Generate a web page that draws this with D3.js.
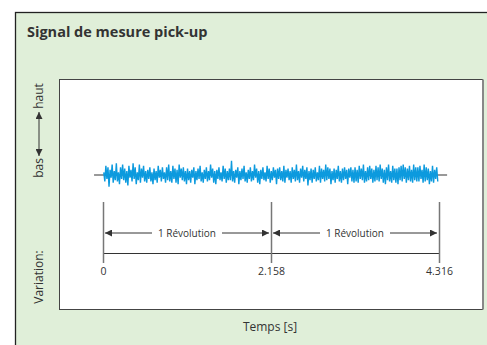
<!DOCTYPE html>
<html>
<head>
<meta charset="utf-8">
<script src="https://cdn.jsdelivr.net/npm/d3@7"></script>
<style>
  body { margin: 0; background: #fff; }
  text { font-family: "Open Sans", "Noto Sans", sans-serif; fill: #333; }
</style>
</head>
<body>
<div id="chart"></div>
<script>
// chart data
const title = 'Signal de mesure pick-up';
const xTicks = [0, 2.158, 4.316];
const xTickLabels = ['0', '2.158', '4.316'];
const revolutions = [[0, 2.158], [2.158, 4.316]];
const revLabel = '1 Révolution';
const xLabel = 'Temps [s]';
const yLabel = 'Variation:';
const baselineExtent = [-0.115, 4.42];
const signalStart = 0.01;
const signalEnd = 4.30;
// pick-up amplitude
const signal = [
  2,-5,7,-3,6,-9,4,-2,8,-6,3,-4,9,-5,2,-7,6,-3,8,-4,
  5,-6,3,-8,7,-2,4,-5,9,-3,6,-7,2,-4,8,-6,5,-2,7,-5,
  3,-6,4,-3,6,-5,2,-7,5,-4,3,-6,7,-2,4,-5,6,-3,2,-6,
  6,-4,8,-5,3,-6,7,-3,5,-6,4,-7,8,-2,5,-4,6,-5,3,-7,
  5,-4,3,-6,4,-2,6,-7,3,-4,5,-3,7,-5,2,-6,4,-3,6,-5,
  3,-4,8,-2,5,-6,3,-7,4,-3,6,-4,2,-5,7,-3,5,-6,3,-4,
  5,-4,11,-5,3,-6,4,-2,6,-7,3,-4,5,-3,7,-5,2,-6,4,-3,
  6,-5,3,-4,8,-2,5,-6,3,-7,4,-3,6,-4,2,-5,7,-3,5,-6,
  3,-4,6,-2,4,-7,5,-3,6,-4,3,-5,7,-6,4,-2,5,-4,3,-6,
  6,-3,4,-5,8,-4,3,-6,5,-2,7,-5,4,-3,6,-8,3,-4,5,-6,
  4,-3,6,-5,2,-4,7,-6,5,-3,4,-5,8,-4,6,-3,5,-7,3,-4,
  5,-6,4,-3,7,-5,3,-6,5,-4,6,-3,4,-7,5,-2,6,-5,4,-6,
  6,-5,4,-6,7,-3,5,-4,8,-6,3,-5,6,-4,7,-3,5,-6,4,-5,
  7,-4,6,-5,8,-3,5,-6,4,-7,6,-4,8,-5,3,-6,7,-4,5,-6,
  5,-7,6,-4,7,-5,8,-3,6,-6,5,-4,7,-5,4,-6,8,-4,6,-5,
  6,-5,7,-3,4,-6,8,-5,6,-4,5,-7,3,-5,7,-6,4,-3,6,-5
];

const width = 487, height = 345;
const svg = d3.select('#chart').append('svg')
  .attr('width', width).attr('height', height);

// arrow heads
const defs = svg.append('defs');
defs.append('marker')
  .attr('id', 'arr')
  .attr('viewBox', '0 0 10 10')
  .attr('refX', 10).attr('refY', 5)
  .attr('markerWidth', 10).attr('markerHeight', 7)
  .attr('markerUnits', 'userSpaceOnUse')
  .attr('orient', 'auto-start-reverse')
  .append('path').attr('d', 'M0,0L10,5L0,10Z').attr('fill', '#333');

// outer panel
svg.append('rect')
  .attr('x', 15.5).attr('y', 12.5)
  .attr('width', 480).attr('height', 340)
  .attr('fill', '#e0efd9').attr('stroke', '#222').attr('stroke-width', 1.3);

svg.append('text')
  .attr('x', 27).attr('y', 37)
  .attr('font-size', '14.5px').attr('font-weight', 'bold')
  .text(title);

// plot box
const box = { left: 59.5, top: 79.5, right: 482.5, bottom: 309.5 };
svg.append('rect')
  .attr('x', box.left).attr('y', box.top)
  .attr('width', box.right - box.left).attr('height', box.bottom - box.top)
  .attr('fill', '#fff').attr('stroke', '#444').attr('stroke-width', 1);
svg.append('line')
  .attr('x1', box.right + 0.5).attr('x2', box.right + 0.5)
  .attr('y1', box.top).attr('y2', box.bottom)
  .attr('stroke', '#888').attr('stroke-width', 2);

// scales
const x = d3.scaleLinear().domain([0, 4.316]).range([103, 439]);
const y = d3.scaleLinear().domain([-10, 10]).range([188, 162]);

// baseline
svg.append('line')
  .attr('x1', x(baselineExtent[0])).attr('x2', x(baselineExtent[1]))
  .attr('y1', y(0)).attr('y2', y(0))
  .attr('stroke', '#777').attr('stroke-width', 1.5);

// signal trace
const step = (signalEnd - signalStart) / (signal.length - 1);
const line = d3.line()
  .x((d, i) => x(signalStart + i * step))
  .y(d => y(d));
svg.append('path')
  .datum(signal)
  .attr('d', line)
  .attr('fill', 'none')
  .attr('stroke', '#0c9ade')
  .attr('stroke-width', 1.4);

// time axis
const axisY = 253;
const axis = svg.append('g')
  .attr('transform', `translate(0,${axisY})`)
  .call(d3.axisBottom(x).tickValues(xTicks)
    .tickFormat((d, i) => xTickLabels[i])
    .tickSize(10).tickPadding(5).tickSizeOuter(0));
axis.select('.domain').attr('stroke', '#333').attr('stroke-width', 1);
axis.selectAll('.tick line').attr('stroke', '#777').attr('stroke-width', 1.5)
  .attr('y1', 202 - axisY);
axis.selectAll('.tick text')
  .attr('font-family', '"Open Sans", sans-serif')
  .attr('font-size', '10.5px').attr('fill', '#333');

// revolution arrows
const arrowY = 233;
revolutions.forEach(r => {
  const mid = (x(r[0]) + x(r[1])) / 2;
  const gap = 35;
  svg.append('line')
    .attr('x1', mid - gap).attr('x2', x(r[0]) + 2)
    .attr('y1', arrowY).attr('y2', arrowY)
    .attr('stroke', '#333').attr('stroke-width', 1)
    .attr('marker-end', 'url(#arr)');
  svg.append('line')
    .attr('x1', mid + gap).attr('x2', x(r[1]) - 2)
    .attr('y1', arrowY).attr('y2', arrowY)
    .attr('stroke', '#333').attr('stroke-width', 1)
    .attr('marker-end', 'url(#arr)');
  svg.append('text')
    .attr('x', mid).attr('y', arrowY + 4)
    .attr('text-anchor', 'middle').attr('font-size', '10px')
    .text(revLabel);
});

svg.append('text')
  .attr('x', 270).attr('y', 331)
  .attr('text-anchor', 'middle').attr('font-size', '12px')
  .text(xLabel);

// vertical label
const ly = svg.append('g').attr('transform', 'translate(43,0)');
ly.append('text')
  .attr('transform', 'translate(0,277) rotate(-90)')
  .attr('text-anchor', 'middle').attr('font-size', '12px')
  .text(yLabel);
ly.append('text')
  .attr('transform', 'translate(0,168) rotate(-90)')
  .attr('text-anchor', 'middle').attr('font-size', '12px')
  .text('bas');
ly.append('text')
  .attr('transform', 'translate(0,96) rotate(-90)')
  .attr('text-anchor', 'middle').attr('font-size', '12px')
  .text('haut');
ly.append('line')
  .attr('x1', -4).attr('x2', -4).attr('y1', 134).attr('y2', 112)
  .attr('stroke', '#333').attr('marker-end', 'url(#arr)');
ly.append('line')
  .attr('x1', -4).attr('x2', -4).attr('y1', 134).attr('y2', 156)
  .attr('stroke', '#333').attr('marker-end', 'url(#arr)');
</script>
</body>
</html>
